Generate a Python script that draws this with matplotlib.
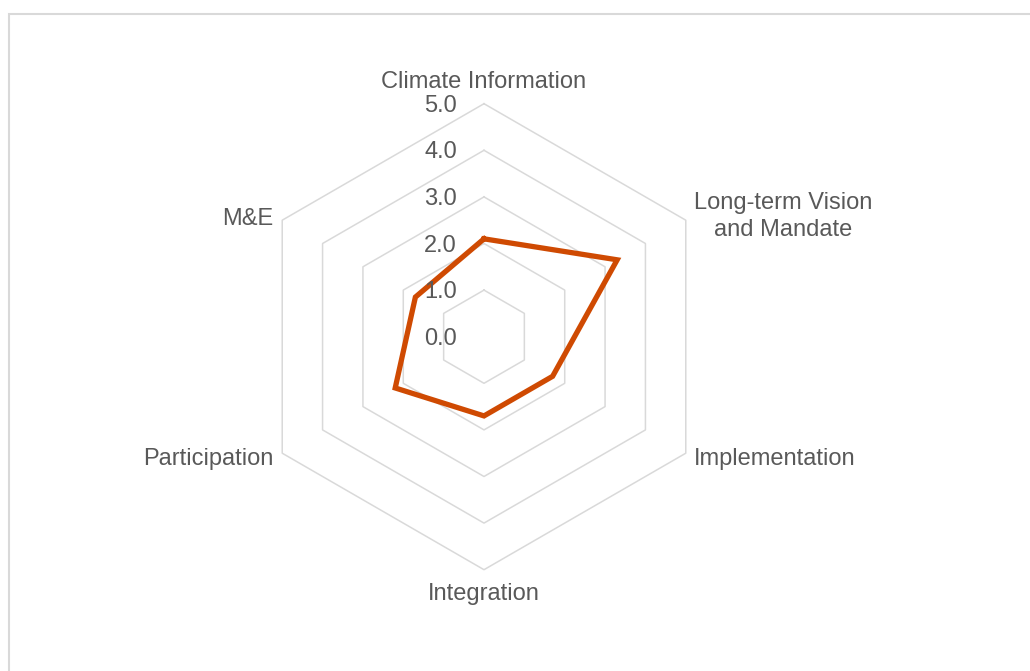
import numpy as np
import matplotlib
matplotlib.use("Agg")
import matplotlib.pyplot as plt
from matplotlib.patches import Rectangle

categories = ["Climate Information", "Long-term Vision\nand Mandate", "Implementation",
              "Integration", "Participation", "M&E"]
values = [2.1, 3.3, 1.7, 1.7, 2.2, 1.7]
ring_levels = [1, 2, 3, 4, 5]
tick_values = [0, 1, 2, 3, 4, 5]
tick_labels = ["0.0", "1.0", "2.0", "3.0", "4.0", "5.0"]

plt.rcParams['font.family'] = ['Liberation Sans', 'DejaVu Sans']
TXT = '#595959'
GRID = '#d9d9d9'
LINE = '#CF4A02'
FS = 17

W, H = 1030, 671
fig = plt.figure(figsize=(W / 100, H / 100), dpi=100)
fig.patch.set_facecolor('white')

# outer chart border (extends past right/bottom edges as in reference)
fig.patches.append(Rectangle((8.5 / W, -0.1), 1.2, 1 - 14 / H + 0.1, transform=fig.transFigure,
                             fill=False, edgecolor=GRID, linewidth=1.5, zorder=0))

cx, cy, R = 484, 336.7, 233
ax = fig.add_axes([(cx - R) / W, 1 - (cy + R) / H, 2 * R / W, 2 * R / H], projection='polar')
ax.set_theta_offset(np.pi / 2)
ax.set_theta_direction(-1)
ax.set_ylim(0, 5)
ax.grid(False)
ax.spines['polar'].set_visible(False)
ax.set_xticks([])
ax.set_yticks([])
ax.patch.set_alpha(0)

n = len(categories)
angles = np.linspace(0, 2 * np.pi, n, endpoint=False)
closed = np.concatenate([angles, angles[:1]])

for lv in ring_levels:
    ax.plot(closed, [lv] * (n + 1), color=GRID, linewidth=1.1, zorder=1, clip_on=False)

vals = values + values[:1]
ax.plot(closed, vals, color=LINE, linewidth=3.8, solid_joinstyle='miter', zorder=3, clip_on=False)

for tv, tl in zip(tick_values, tick_labels):
    ax.annotate(tl, xy=(0, tv), xytext=(-27, -2), textcoords='offset pixels',
                ha='right', va='center', fontsize=FS, color=TXT, annotation_clip=False)

label_style = [
    (0, 22, 'center', 'center', 'center'),
    (8, 4, 'left', 'center', 'center'),
    (8, -6, 'left', 'center', 'left'),
    (0, -24, 'center', 'center', 'center'),
    (-9, -6, 'right', 'center', 'right'),
    (-9, 1, 'right', 'center', 'right'),
]
for ang, lab, (dx, dy, ha, va, ma) in zip(angles, categories, label_style):
    ax.annotate(lab, xy=(ang, 5), xytext=(dx, dy), textcoords='offset pixels',
                ha=ha, va=va, multialignment=ma, fontsize=FS, color=TXT,
                annotation_clip=False, linespacing=1.3)

fig.savefig('out.png', dpi=100, facecolor='white')
